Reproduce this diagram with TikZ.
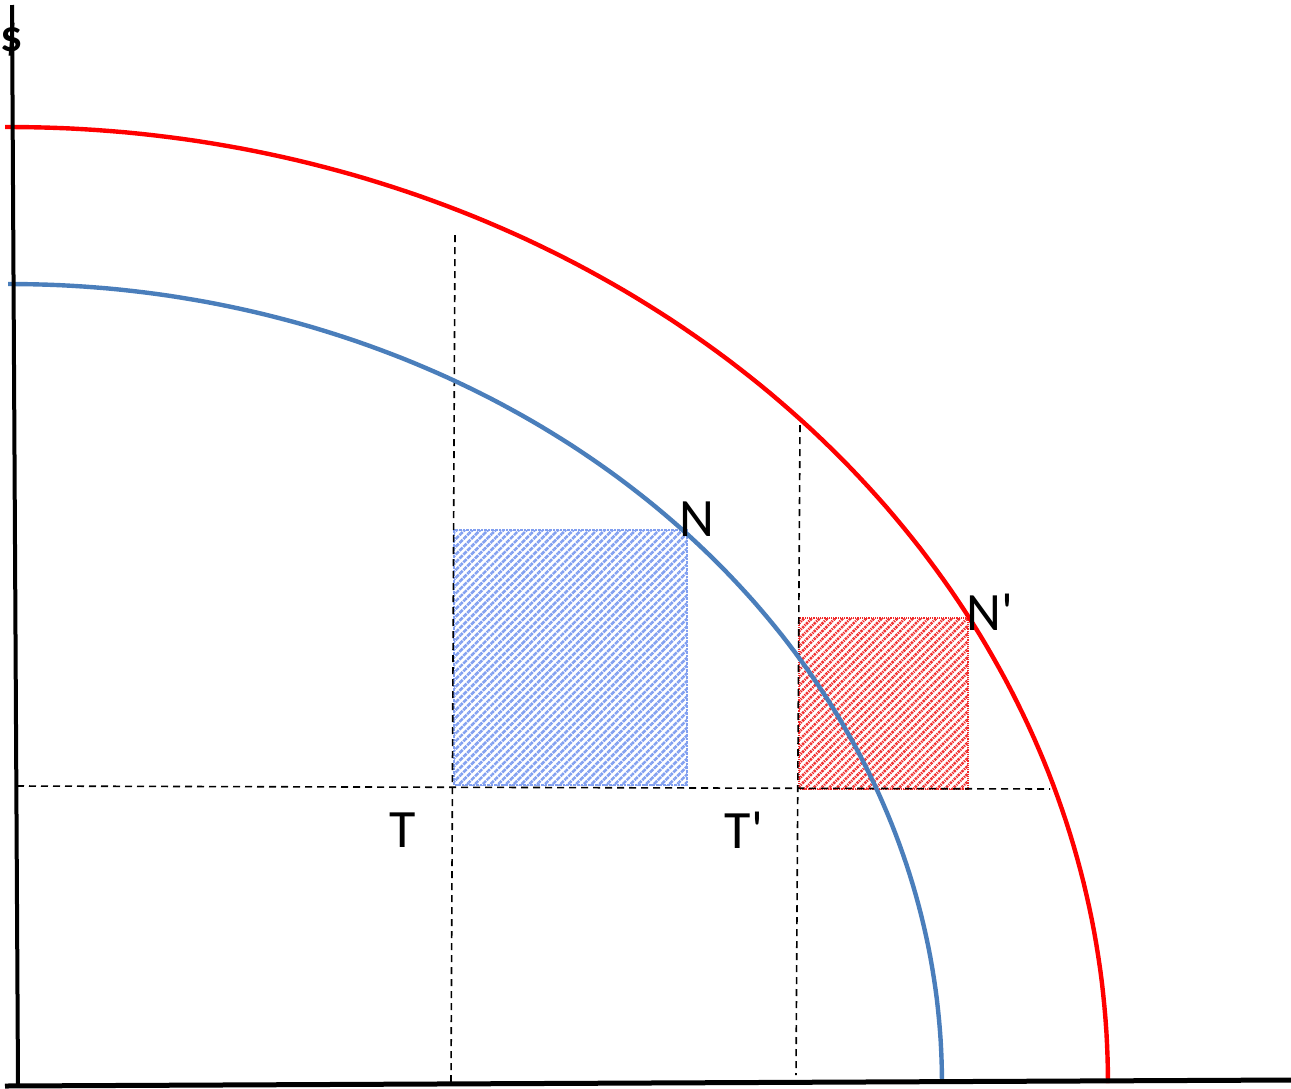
\documentclass[tikz,border=0pt]{standalone}
\usepackage{fontspec}
\setmainfont{Carlito}
\usetikzlibrary{patterns.meta}
\definecolor{curveblue}{RGB}{74,126,187}
\definecolor{hatchblue}{RGB}{130,160,240}
\definecolor{hatchred}{RGB}{240,40,40}
\tikzset{
  axis/.style={line width=4pt, black},
  guide/.style={line width=1.6pt, black, dash pattern=on 7pt off 5pt},
  lbl/.style={font=\fontsize{54}{60}\selectfont, inner sep=0pt},
  bluehatch/.style={pattern={Lines[angle=45,distance=5.5pt,line width=2.6pt]}, pattern color=hatchblue, draw=hatchblue, densely dotted, line width=1.2pt},
  redhatch/.style={pattern={Lines[angle=45,distance=5.5pt,line width=2.6pt]}, pattern color=hatchred, draw=hatchred, densely dotted, line width=1.2pt},
  curve/.style={line width=4.4pt},
}
\begin{document}
\begin{tikzpicture}[x=1pt,y=-1pt]
\useasboundingbox (0,0) rectangle (1291,1088);
% hatched rectangles
\path[bluehatch] (454,530) rectangle (687,785);
\path[redhatch] (799,618) rectangle (968,789);
% dashed guides
\coordinate (v1t) at (455,235); \coordinate (v1b) at (451,1083);
\coordinate (v2t) at (800,425); \coordinate (v2b) at (796,1075);
\coordinate (hl) at (17,786); \coordinate (hr) at (1050,789);
\draw[guide] (v1t) -- (v1b);
\draw[guide] (v2t) -- (v2b);
\draw[guide] (hl) -- (hr);
% curves
\draw[curve, red] (5,127) -- (10,127) plot[domain=90:0, samples=120] ({10+1098*cos(\x)},{1083-956*sin(\x)});
\draw[curve, curveblue] (8,284) -- (10,284) plot[domain=90:0, samples=120] ({10+932*cos(\x)},{1083-799*sin(\x)});
% axes
\coordinate (ytop) at (12,5); \coordinate (ybot) at (18,1084);
\coordinate (xl) at (5,1086); \coordinate (xr) at (1291,1080);
\draw[axis] (ytop) -- (ybot);
\draw[axis, line width=5pt] (xl) -- (xr);
% labels
\node[lbl, font=\fontsize{44}{48}\selectfont\bfseries] (dollar) at (12,40) {\$};
\node[lbl] (N) at (697,519) {N};
\node[lbl] (Np) at (990,612) {N\textquotesingle};
\node[lbl] (T) at (403,830) {T};
\node[lbl] (Tp) at (744,830) {T\textquotesingle};
\end{tikzpicture}
\end{document}
